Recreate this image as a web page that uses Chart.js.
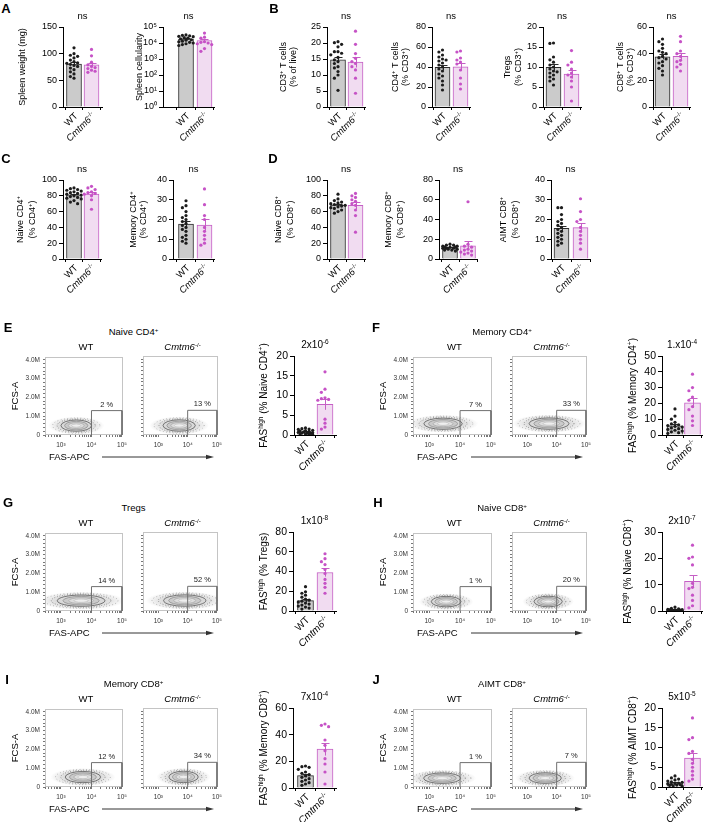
<!DOCTYPE html>
<html>
<head>
<meta charset="utf-8">
<script src="https://cdn.jsdelivr.net/npm/chart.js@4.4.1/dist/chart.umd.min.js"></script>
<style>
  body { margin: 0; background: #fff; font-family: "Liberation Sans", Arial, sans-serif; }
  #fig { position: relative; width: 705px; height: 822px; overflow: hidden; background: #fff; }
  canvas { position: absolute; }
  .t { position: absolute; white-space: nowrap; color: #000; line-height: 1; transform: translate(-50%, -50%); }
  .t sup { font-size: 65%; vertical-align: 0.45em; line-height: 0; }
  .lt { font-weight: bold; font-size: 13px; }
</style>
</head>
<body>
<div id="fig"></div>
<script>
// ---- data ----
const groupLabels = ['WT', '*Cmtm6*^{-/-}'];

// A
const spleenWeightWT = [111, 100, 97, 95, 92, 88, 85, 83, 82, 80, 78, 76, 73, 70, 66, 62, 57, 54];
const spleenWeightKO = [108, 96, 84, 79, 76, 74, 72, 69, 67, 65];
const spleenCellsWT = [32000, 30000, 28000, 26000, 25000, 22000, 20000, 18000, 16000, 15000, 13000, 12000, 11000, 10000, 9000, 8000, 7000];
const spleenCellsKO = [42000, 23000, 20000, 12000, 11000, 10000, 9000, 8000, 4500, 3000];
// B
const cd3WT = [20.4, 20.1, 19.6, 18.8, 17.3, 17.3, 16.8, 16.3, 15.5, 14.7, 14.2, 13.6, 12.6, 12.2, 11.1, 10.0, 9.0, 5.2];
const cd3KO = [23.7, 19.6, 16.7, 15.2, 14.2, 13.6, 12.6, 11.6, 9.0, 4.3];
const cd4WT = [57, 55, 52, 50, 48, 47, 46, 44, 42, 40, 38, 36, 33, 31, 29, 26, 22, 17];
const cd4KO = [56, 55, 49, 47, 45, 43, 37, 29, 23, 18];
const tregWT = [16, 15.9, 12.5, 11.8, 11.2, 10.5, 10, 9.5, 9, 8.8, 8.5, 8, 7.5, 7, 6.5, 5.5];
const tregKO = [14.1, 11.2, 10.5, 9.5, 8.5, 8.0, 7.5, 6.5, 5, 1.5];
const cd8WT = [51, 49, 47, 44, 42, 41, 40, 38, 37, 36, 34, 33, 31, 29, 27, 24];
const cd8KO = [53, 49, 42, 40, 38, 35, 34, 32, 30, 27];
// C
const naiveCd4WT = [90, 89, 88, 87, 86, 85, 84, 83, 82, 81, 80, 79, 78, 77, 76, 74, 72, 70];
const naiveCd4KO = [92, 90, 88, 85, 84, 83, 82, 80, 75, 63];
const memCd4WT = [29.5, 27, 26, 24, 22, 21, 20, 19, 18, 17, 16, 15, 14, 12, 11, 10, 9, 8];
const memCd4KO = [35.5, 27.5, 22, 20, 16, 14, 12, 10, 8, 7];
// D
const naiveCd8WT = [82, 76, 74, 72, 71, 70, 69, 68, 67, 66, 65, 64, 62, 60, 58];
const naiveCd8KO = [83, 80, 78, 75, 73, 70, 68, 62, 55, 34];
const memCd8WT = [15, 14, 14, 13, 13, 12, 12, 12, 11, 11, 11, 10, 10, 9, 9, 8];
const memCd8KO = [58, 15, 13, 12, 10, 9, 8, 7, 6, 5, 4];
const aimtWT = [26, 26, 22.5, 20, 19, 18, 17, 16, 15, 14, 13, 12, 11, 10, 9, 8, 7];
const aimtKO = [30.5, 24, 20, 19, 16, 14, 12, 10, 8, 5];
// E-J  FAS-high fractions
const fasNaiveCd4WT = [1.8, 1.6, 1.5, 1.4, 1.2, 1.1, 1.0, 0.9, 0.8, 0.7, 0.6, 0.5, 0.5, 0.4, 0.3, 0.3, 0.2, 0.1];
const fasNaiveCd4KO = [16, 11.6, 10.8, 9.4, 9.2, 9.0, 8.8, 4.0, 3.0, 2.0, 1.5];
const fasMemCd4WT = [16.5, 12, 10, 8, 7, 6.5, 6, 5.5, 5, 4.5, 4, 3.5, 3, 2.5, 2, 1.5, 1];
const fasMemCd4KO = [38.5, 30, 28, 24, 22, 18, 16, 12, 9, 6];
const fasTregWT = [24.6, 19.5, 18, 16, 14, 12, 11, 10, 9, 8, 7, 6, 5, 4, 3, 2];
const fasTregKO = [58, 53, 50, 47, 42, 38, 32, 28, 24, 18];
const fasNaiveCd8WT = [1.5, 1.0, 0.8, 0.6, 0.5, 0.4, 0.4, 0.3, 0.3, 0.2, 0.2, 0.1, 0.1, 0.1, 0.05];
const fasNaiveCd8KO = [25, 20.5, 20, 17.5, 10.5, 9, 8.5, 6, 4, 2, 1.2];
const fasMemCd8WT = [16.5, 16, 15.5, 14, 12, 11, 10, 9, 8, 7, 6, 5, 4, 3, 2];
const fasMemCd8KO = [48, 47, 46, 36, 32, 28, 22, 18, 12, 3];
const fasAimtWT = [2.8, 2.3, 2.0, 1.8, 1.5, 1.3, 1.2, 1.0, 0.9, 0.8, 0.7, 0.6, 0.5, 0.4, 0.3, 0.2];
const fasAimtKO = [17.5, 12.5, 12, 9, 8.5, 7, 6, 5, 4, 3, 2, 1.5];

// flow plots, order: E WT, E KO, F WT, F KO, G WT, G KO, H WT, H KO, I WT, I KO, J WT, J KO
const gatePercent = ['2 %', '13 %', '7 %', '33 %', '14 %', '52 %', '1 %', '20 %', '12 %', '34 %', '1 %', '7 %'];
const popFasLog = [3.50, 3.71, 3.45, 3.74, 3.66, 3.90, 3.55, 3.71, 3.72, 3.86, 3.42, 3.61];
const popFasSpread = [0.50, 0.55, 0.62, 0.68, 0.78, 0.72, 0.48, 0.48, 0.58, 0.50, 0.60, 0.55];
const popFcs = [0.50, 0.50, 0.60, 0.60, 0.55, 0.55, 0.50, 0.50, 0.53, 0.53, 0.47, 0.47];
const popFcsSpread = [0.30, 0.30, 0.30, 0.30, 0.30, 0.30, 0.28, 0.28, 0.30, 0.30, 0.28, 0.28];
const gateFas = [1e4, 1e4, 1e5, 1e5];
const gateFcs = [0, 1.3e6, 1.3e6, 0];
const gateLabelFcs = 1.62e6;
const fasMin = 300, fasMax = 1.07e5, fcsMax = 4.16e6;
const fasLabels = { 1000: '10³', 10000: '10⁴', 100000: '10⁵' };

// ---- styles ----
const FONT = '"Liberation Sans", Arial, Helvetica, sans-serif';
const WT_DOT = '#1c1c1c', KO_DOT = '#c652c6';
const WT_FILL = '#cbcbcb', KO_FILL = '#f1dcf1';
const WT_LINE = '#2b2b2b', KO_LINE = '#c55fc5';
Chart.defaults.font.family = FONT;
Chart.defaults.color = '#000';

const fig = document.getElementById('fig');

function addCanvas(left, top, w, h) {
    const cv = document.createElement('canvas');
    cv.width = w; cv.height = h;
    cv.style.left = left + 'px'; cv.style.top = top + 'px';
    cv.style.width = w + 'px'; cv.style.height = h + 'px';
    fig.appendChild(cv);
    return cv;
}

function addText(x, y, html, css, cls) {
    const d = document.createElement('div');
    d.className = 't' + (cls ? ' ' + cls : '');
    d.innerHTML = html;
    d.style.left = x + 'px';
    d.style.top = y + 'px';
    if (css) d.style.cssText += css;
    fig.appendChild(d);
    return d;
}

const avg = a => a.reduce((s, v) => s + v, 0) / a.length;
const sem = a => {
    const m = avg(a);
    return Math.sqrt(a.reduce((s, v) => s + (v - m) ** 2, 0) / (a.length - 1)) / Math.sqrt(a.length);
};

// "^{..}" = superscript, "*..*" = italic
function richParts(s) {
    const out = [];
    s.split(/(\^\{[^}]*\}|\*[^*]+\*)/).forEach(p => {
        if (!p) return;
        if (p.startsWith('^{')) out.push({ t: p.slice(2, -1), sup: true });
        else if (p.startsWith('*') && p.length > 1) out.push({ t: p.slice(1, -1), it: true });
        else out.push({ t: p });
    });
    return out;
}
function drawRich(ctx, s, x, y, size, align) {
    const parts = richParts(s);
    const fontOf = p => `${p.it ? 'italic ' : ''}${p.sup ? size * 0.65 : size}px ${FONT}`;
    let w = 0;
    parts.forEach(p => { ctx.font = fontOf(p); p.w = ctx.measureText(p.t).width; w += p.w; });
    let cx = align === 'center' ? x - w / 2 : align === 'right' ? x - w : x;
    ctx.textAlign = 'left';
    ctx.textBaseline = 'alphabetic';
    parts.forEach(p => {
        ctx.font = fontOf(p);
        ctx.fillText(p.t, cx, y - (p.sup ? size * 0.4 : 0));
        cx += p.w;
    });
}

// simple beeswarm: spread dots sideways (px) when they collide
function swarm(vals, toPx) {
    const cand = [0, -3.6, 3.6, -7.2, 7.2, -1.8, 1.8, -5.4, 5.4];
    const placed = [];
    [...vals].sort((a, b) => b - a).forEach(v => {
        const py = toPx(v);
        let best = 0, bestScore = -1;
        for (const dx of cand) {
            let sc = Infinity;
            placed.forEach(p => { sc = Math.min(sc, Math.hypot(p.dx - dx, p.py - py)); });
            if (sc >= 3.4) { best = dx; break; }
            if (sc > bestScore) { bestScore = sc; best = dx; }
        }
        placed.push({ v, py, dx: best });
    });
    return placed;
}

function barChart(o) {
    const fs = o.fs || 9, tfs = o.tfs || 9.5, lfs = o.lfs || 9.5, yfs = o.yfs || 9;
    const left = Math.floor(Math.min(...o.titleX) - 8);
    const ctop = o.top - 24;
    const cv = addCanvas(left, ctop, o.right + 4 - left, o.bottom + 52 - ctop);
    const u = o.c1 - o.c0, plotH = o.bottom - o.top;
    const yMin = o.log ? o.yMin : 0;
    const lg = Math.log10;
    const toPx = v => o.log ? (lg(v) - lg(yMin)) / (lg(o.yMax) - lg(yMin)) * plotH : v / o.yMax * plotH;
    const groups = [o.wt, o.ko];
    const means = groups.map(avg), sems = groups.map(sem);
    const dots = [];
    groups.forEach((vals, g) => swarm(vals, toPx).forEach(d => dots.push({ x: g + d.dx / u, y: d.v, g })));
    const lineCols = [WT_LINE, KO_LINE];

    const deco = {
        id: 'deco',
        afterDatasetDraw(chart, args) {
            if (args.index !== 0) return;
            const { ctx, scales: { x, y } } = chart;
            ctx.save();
            ctx.lineWidth = 1;
            means.forEach((m, g) => {
                const px = Math.round(x.getPixelForValue(g)) + 0.5;
                const lo = y.getPixelForValue(Math.max(m - sems[g], yMin));
                const hi = Math.round(y.getPixelForValue(m + sems[g])) + 0.5;
                ctx.strokeStyle = lineCols[g];
                ctx.beginPath();
                ctx.moveTo(px, lo); ctx.lineTo(px, hi);
                ctx.moveTo(px - 4, hi); ctx.lineTo(px + 4, hi);
                ctx.stroke();
            });
            ctx.restore();
        },
        afterDraw(chart) {
            const { ctx, chartArea: ca, scales: { x } } = chart;
            ctx.save();
            ctx.fillStyle = '#000';
            drawRich(ctx, o.topText || 'ns', (ca.left + ca.right) / 2, ca.top - 11.5 + tfs * 0.35, tfs, 'center');
            const cy = (ca.top + ca.bottom) / 2;
            o.title.forEach((t, i) => {
                ctx.save();
                ctx.translate(o.titleX[i] - left, cy);
                ctx.rotate(-Math.PI / 2);
                drawRich(ctx, t, 0, yfs * 0.35, yfs, 'center');
                ctx.restore();
            });
            groupLabels.forEach((t, g) => {
                ctx.save();
                ctx.translate(x.getPixelForValue(g) + 2, ca.bottom + 7);
                ctx.rotate(-Math.PI / 4);
                drawRich(ctx, t, 0, lfs * 0.35, lfs, 'right');
                ctx.restore();
            });
            ctx.restore();
        }
    };

    new Chart(cv, {
        type: 'bar',
        data: {
            datasets: [
                {
                    type: 'bar',
                    data: means.map((m, g) => ({ x: g, y: m })),
                    backgroundColor: [WT_FILL, KO_FILL],
                    borderColor: [WT_LINE, KO_LINE],
                    borderWidth: 1,
                    barThickness: o.bw || 15,
                    order: 2,
                },
                {
                    type: 'scatter',
                    data: dots,
                    pointRadius: 1.6,
                    pointBackgroundColor: dots.map(d => d.g ? KO_DOT : WT_DOT),
                    pointBorderWidth: 0,
                    order: 1,
                },
            ],
        },
        options: {
            responsive: false, animation: false, devicePixelRatio: 1, events: [],
            layout: { padding: { top: 24, right: 4, left: 0, bottom: 0 } },
            plugins: { legend: { display: false }, tooltip: { enabled: false }, title: { display: false } },
            scales: {
                x: {
                    type: 'linear', offset: false,
                    min: -(o.c0 - o.axisX) / u, max: (o.right - o.c0) / u,
                    afterBuildTicks: s => { s.ticks = [{ value: 0 }, { value: 1 }]; },
                    afterFit: s => { s.height = 52; },
                    ticks: { display: false },
                    grid: { drawOnChartArea: false, tickLength: 3, color: '#000' },
                    border: { color: '#000', width: 1 },
                },
                y: {
                    type: o.log ? 'logarithmic' : 'linear',
                    min: yMin, max: o.yMax,
                    afterBuildTicks: s => { s.ticks = o.ticks.map(v => ({ value: v })); },
                    afterFit: s => { s.width = o.axisX - left; },
                    ticks: {
                        autoSkip: false, padding: 2, color: '#000', font: { size: fs },
                        callback: (v, i) => o.tickLabels ? o.tickLabels[i] : String(v),
                    },
                    grid: { drawOnChartArea: false, tickLength: 4, color: '#000' },
                    border: { color: '#000', width: 1 },
                },
            },
        },
        plugins: [deco],
    });
}

const steps = (max, step) => { const a = []; for (let v = 0; v <= max + 1e-9; v += step) a.push(+v.toFixed(6)); return a; };

// row 1
barChart({ axisX: 63, c0: 74, c1: 91.5, right: 102, top: 27, bottom: 107, yMax: 150, ticks: steps(150, 50),
    wt: spleenWeightWT, ko: spleenWeightKO, title: ['Spleen weight (mg)'], titleX: [22] });
barChart({ axisX: 163, c0: 186, c1: 204.5, right: 214, top: 27, bottom: 107, log: true, yMin: 1, yMax: 1e5,
    ticks: [1, 10, 100, 1e3, 1e4, 1e5], tickLabels: ['10⁰', '10¹', '10²', '10³', '10⁴', '10⁵'],
    wt: spleenCellsWT, ko: spleenCellsKO, title: ['Spleen cellularity'], titleX: [139] });
barChart({ axisX: 327, c0: 338, c1: 355.5, right: 365, top: 27, bottom: 107, yMax: 25, ticks: steps(25, 5),
    wt: cd3WT, ko: cd3KO, title: ['CD3^{+} T cells', '(% of live)'], titleX: [283, 293] });
barChart({ axisX: 432, c0: 442.5, c1: 460.5, right: 470, top: 27, bottom: 107, yMax: 80, ticks: steps(80, 20),
    wt: cd4WT, ko: cd4KO, title: ['CD4^{+} T cells', '(% CD3^{+})'], titleX: [395, 405] });
barChart({ axisX: 543, c0: 553.5, c1: 571.5, right: 581, top: 27, bottom: 107, yMax: 20, ticks: steps(20, 5),
    wt: tregWT, ko: tregKO, title: ['Tregs', '(% CD3^{+})'], titleX: [507, 518] });
barChart({ axisX: 653, c0: 662.5, c1: 680.5, right: 690, top: 27, bottom: 107, yMax: 60, ticks: steps(60, 20),
    wt: cd8WT, ko: cd8KO, title: ['CD8^{+} T cells', '(% CD3^{+})'], titleX: [620, 630] });
// row 2
barChart({ axisX: 63, c0: 74, c1: 91.5, right: 101, top: 180, bottom: 259, yMax: 100, ticks: steps(100, 20),
    wt: naiveCd4WT, ko: naiveCd4KO, title: ['Naive CD4^{+}', '(% CD4^{+})'], titleX: [20, 32] });
barChart({ axisX: 173, c0: 186, c1: 204.5, right: 214, top: 180, bottom: 259, yMax: 40, ticks: steps(40, 10),
    wt: memCd4WT, ko: memCd4KO, title: ['Memory CD4^{+}', '(% CD4^{+})'], titleX: [133, 143] });
barChart({ axisX: 327, c0: 338, c1: 355.5, right: 365, top: 180, bottom: 259, yMax: 100, ticks: steps(100, 20),
    wt: naiveCd8WT, ko: naiveCd8KO, title: ['Naive CD8^{+}', '(% CD8^{+})'], titleX: [278, 290] });
barChart({ axisX: 439, c0: 450, c1: 468, right: 477, top: 180, bottom: 259, yMax: 80, ticks: steps(80, 20),
    wt: memCd8WT, ko: memCd8KO, title: ['Memory CD8^{+}', '(% CD8^{+})'], titleX: [388, 400] });
barChart({ axisX: 551, c0: 561.5, c1: 580.5, right: 590, top: 180, bottom: 259, yMax: 40, ticks: steps(40, 10),
    wt: aimtWT, ko: aimtKO, title: ['AIMT CD8^{+}', '(% CD8^{+})'], titleX: [503, 515] });
// FAS-high bars
const big = { fs: 10.5, tfs: 10, yfs: 10, lfs: 10, bw: 16 };
barChart({ ...big, axisX: 294, c0: 305.5, c1: 325, right: 336, top: 356, bottom: 435, yMax: 20, ticks: steps(20, 5),
    wt: fasNaiveCd4WT, ko: fasNaiveCd4KO, title: ['FAS^{high} (% Naive CD4^{+})'], titleX: [263], topText: '2x10^{-6}' });
barChart({ ...big, axisX: 662, c0: 675, c1: 692.5, right: 702, top: 356, bottom: 435, yMax: 50, ticks: steps(50, 10),
    wt: fasMemCd4WT, ko: fasMemCd4KO, title: ['FAS^{high} (% Memory CD4^{+})'], titleX: [632], topText: '1.x10^{-4}' });
barChart({ ...big, axisX: 293, c0: 305.5, c1: 325, right: 336, top: 532, bottom: 611, yMax: 80, ticks: steps(80, 20),
    wt: fasTregWT, ko: fasTregKO, title: ['FAS^{high} (% Tregs)'], titleX: [263], topText: '1x10^{-8}' });
barChart({ ...big, axisX: 662, c0: 675, c1: 692.5, right: 702, top: 532, bottom: 611, yMax: 30, ticks: steps(30, 10),
    wt: fasNaiveCd8WT, ko: fasNaiveCd8KO, title: ['FAS^{high} (% Naive CD8^{+})'], titleX: [627], topText: '2x10^{-7}' });
barChart({ ...big, axisX: 293, c0: 305.5, c1: 325, right: 336, top: 708, bottom: 788, yMax: 60, ticks: steps(60, 20),
    wt: fasMemCd8WT, ko: fasMemCd8KO, title: ['FAS^{high} (% Memory CD8^{+})'], titleX: [263], topText: '7x10^{-4}' });
barChart({ ...big, axisX: 662, c0: 675, c1: 692.5, right: 702, top: 708, bottom: 787, yMax: 20, ticks: steps(20, 5),
    wt: fasAimtWT, ko: fasAimtKO, title: ['FAS^{high} (% AIMT CD8^{+})'], titleX: [632], topText: '5x10^{-5}' });

// ---- flow plots ----
const flowFasTicks = [];
[100, 1000, 10000].forEach(d => { for (let m = 1; m <= 9; m++) { const v = m * d; if (v >= fasMin && v <= fasMax) flowFasTicks.push(v); } });
flowFasTicks.push(100000);
const flowFcsTicks = steps(4e6, 2e5);

function flowChart(k, x0, x1, y0, y1, showY) {
    const padL = showY ? 38 : 6;
    const cv = addCanvas(x0 - padL, y0 - 6, x1 - x0 + padL + 4, y1 - y0 + 6 + 20);
    const deco = {
        id: 'flowDeco',
        beforeDatasetsDraw(chart) {
            const { ctx, chartArea: ca, scales: { x, y } } = chart;
            ctx.save();
            ctx.strokeStyle = '#c4c4c4';
            ctx.lineWidth = 1;
            ctx.strokeRect(Math.round(ca.left) + 0.5, Math.round(ca.top) + 0.5, Math.round(ca.width) - 1, Math.round(ca.height) - 1);
            ctx.beginPath();
            ctx.rect(ca.left, ca.top, ca.width, ca.height);
            ctx.clip();
            const c = popFasLog[k], h = popFasSpread[k];
            const cx = x.getPixelForValue(10 ** c);
            const rx = (x.getPixelForValue(10 ** (c + h)) - x.getPixelForValue(10 ** (c - h))) / 2;
            const cy = y.getPixelForValue(popFcs[k] * 1e6);
            const ry = (y.getPixelForValue((popFcs[k] - popFcsSpread[k]) * 1e6) - y.getPixelForValue((popFcs[k] + popFcsSpread[k]) * 1e6)) / 2;
            // faint halo of events
            ctx.save();
            ctx.translate(cx, cy);
            ctx.scale(rx * 1.15, ry);
            const g = ctx.createRadialGradient(0, 0, 0.7, 0, 0, 1.6);
            g.addColorStop(0, 'rgba(90,90,90,0.28)');
            g.addColorStop(1, 'rgba(90,90,90,0)');
            ctx.fillStyle = g;
            ctx.beginPath(); ctx.arc(0, 0, 1.6, 0, Math.PI * 2); ctx.fill();
            ctx.restore();
            ctx.lineWidth = 0.8;
            ctx.setLineDash([0.7, 2.6]);
            ctx.strokeStyle = '#8a8a8a';
            ctx.beginPath(); ctx.ellipse(cx, cy, rx * 1.55, ry * 1.35, 0, 0, Math.PI * 2); ctx.stroke();
            ctx.setLineDash([0.8, 1.8]);
            ctx.strokeStyle = '#666';
            ctx.beginPath(); ctx.ellipse(cx, cy, rx * 1.25, ry * 1.18, 0, 0, Math.PI * 2); ctx.stroke();
            ctx.setLineDash([]);
            // contour levels
            [[1, '#d9d9d9', '#474747'], [0.76, '#cbcbcb', '#888'], [0.52, '#dedede', '#a5a5a5'], [0.3, '#eeeeee', '#bcbcbc']].forEach(([s, f, st]) => {
                ctx.beginPath();
                ctx.ellipse(cx, cy, rx * s, ry * s, 0, 0, Math.PI * 2);
                ctx.fillStyle = f; ctx.fill();
                ctx.strokeStyle = st; ctx.lineWidth = 0.7; ctx.stroke();
            });
            ctx.restore();
        },
        afterDraw(chart) {
            const { ctx, scales: { x, y } } = chart;
            ctx.save();
            ctx.fillStyle = '#222';
            ctx.font = `7.5px ${FONT}`;
            ctx.textAlign = 'center';
            ctx.textBaseline = 'middle';
            ctx.fillText(gatePercent[k], x.getPixelForValue(10 ** 4.5), y.getPixelForValue(gateLabelFcs));
            ctx.restore();
        }
    };
    new Chart(cv, {
        type: 'line',
        data: {
            datasets: [{
                data: gateFas.map((v, i) => ({ x: v, y: gateFcs[i] })),
                borderColor: '#707070', borderWidth: 1, pointRadius: 0, tension: 0, fill: false,
            }],
        },
        options: {
            responsive: false, animation: false, devicePixelRatio: 1, events: [],
            layout: { padding: { top: 6, right: 4, left: 0, bottom: 0 } },
            plugins: { legend: { display: false }, tooltip: { enabled: false }, title: { display: false } },
            scales: {
                x: {
                    type: 'logarithmic', min: fasMin, max: fasMax,
                    afterBuildTicks: s => { s.ticks = flowFasTicks.map(v => ({ value: v })); },
                    afterFit: s => { s.height = 20; },
                    ticks: { autoSkip: false, maxRotation: 0, minRotation: 0, padding: 4, color: '#333', font: { size: 6.5 },
                        callback: v => fasLabels[v] || '' },
                    grid: { drawOnChartArea: false, tickLength: 2, color: '#777' },
                    border: { display: false },
                },
                y: {
                    type: 'linear', min: 0, max: fcsMax,
                    afterBuildTicks: s => { s.ticks = flowFcsTicks.map(v => ({ value: v })); },
                    afterFit: s => { s.width = padL; },
                    ticks: { display: showY, autoSkip: false, padding: 3, color: '#333', font: { size: 6.5 },
                        callback: v => (Math.abs(v % 1e6) < 1 ? (v ? (v / 1e6).toFixed(1) + 'M' : '0') : '') },
                    grid: { drawOnChartArea: false, tickLength: 2, color: '#777' },
                    border: { display: false },
                },
            },
        },
        plugins: [deco],
    });
}

const flowRows = [
    { k: 0, xs: [45, 127, 143, 222], ys: [356, 435], title: 'Naive CD4<sup>+</sup>' },
    { k: 2, xs: [413, 496, 512, 591], ys: [356, 435], title: 'Memory CD4<sup>+</sup>' },
    { k: 4, xs: [45, 127, 143, 222], ys: [532, 611], title: 'Tregs' },
    { k: 6, xs: [413, 496, 512, 591], ys: [532, 611], title: 'Naive CD8<sup>+</sup>' },
    { k: 8, xs: [45, 127, 143, 222], ys: [708, 787], title: 'Memory CD8<sup>+</sup>' },
    { k: 10, xs: [413, 496, 512, 591], ys: [708, 787], title: 'AIMT CD8<sup>+</sup>' },
];

flowRows.forEach(r => {
    const [a0, a1, b0, b1] = r.xs, [t, b] = r.ys;
    flowChart(r.k, a0, a1, t, b, true);
    flowChart(r.k + 1, b0, b1, t, b, false);
    addText((a0 + b1) / 2, t - 24, r.title, 'font-size:9.5px');
    addText((a0 + a1) / 2, t - 9, 'WT', 'font-size:9.5px');
    addText((b0 + b1) / 2, t - 9, '<i>Cmtm6</i><sup>-/-</sup>', 'font-size:9.5px');
    addText(a0 - 30, (t + b) / 2, 'FCS-A', 'font-size:9.5px;transform:translate(-50%,-50%) rotate(-90deg)');
    addText(a0 + 4, b + 22, 'FAS-APC', 'font-size:9.5px;transform:translate(0,-50%)');
    const ax0 = a1 - 25, ax1 = b1 - 9;
    const svg = document.createElementNS('http://www.w3.org/2000/svg', 'svg');
    svg.setAttribute('width', ax1 - ax0 + 2);
    svg.setAttribute('height', 8);
    svg.style.cssText = `position:absolute;left:${ax0}px;top:${b + 18}px`;
    svg.innerHTML = `<line x1="0" y1="4" x2="${ax1 - ax0 - 6}" y2="4" stroke="#333" stroke-width="1"/>` +
        `<polygon points="${ax1 - ax0 - 7},1.8 ${ax1 - ax0 + 1},4 ${ax1 - ax0 - 7},6.2" fill="#333"/>`;
    fig.appendChild(svg);
});

// panel letters
[['A', 6, 8], ['B', 274, 8], ['C', 6, 158], ['D', 273, 158], ['E', 8, 327], ['F', 376, 327],
 ['G', 8, 502], ['H', 378, 502], ['I', 7, 679], ['J', 376, 679]].forEach(([l, x, y]) => addText(x, y, l, '', 'lt'));
</script>
</body>
</html>
